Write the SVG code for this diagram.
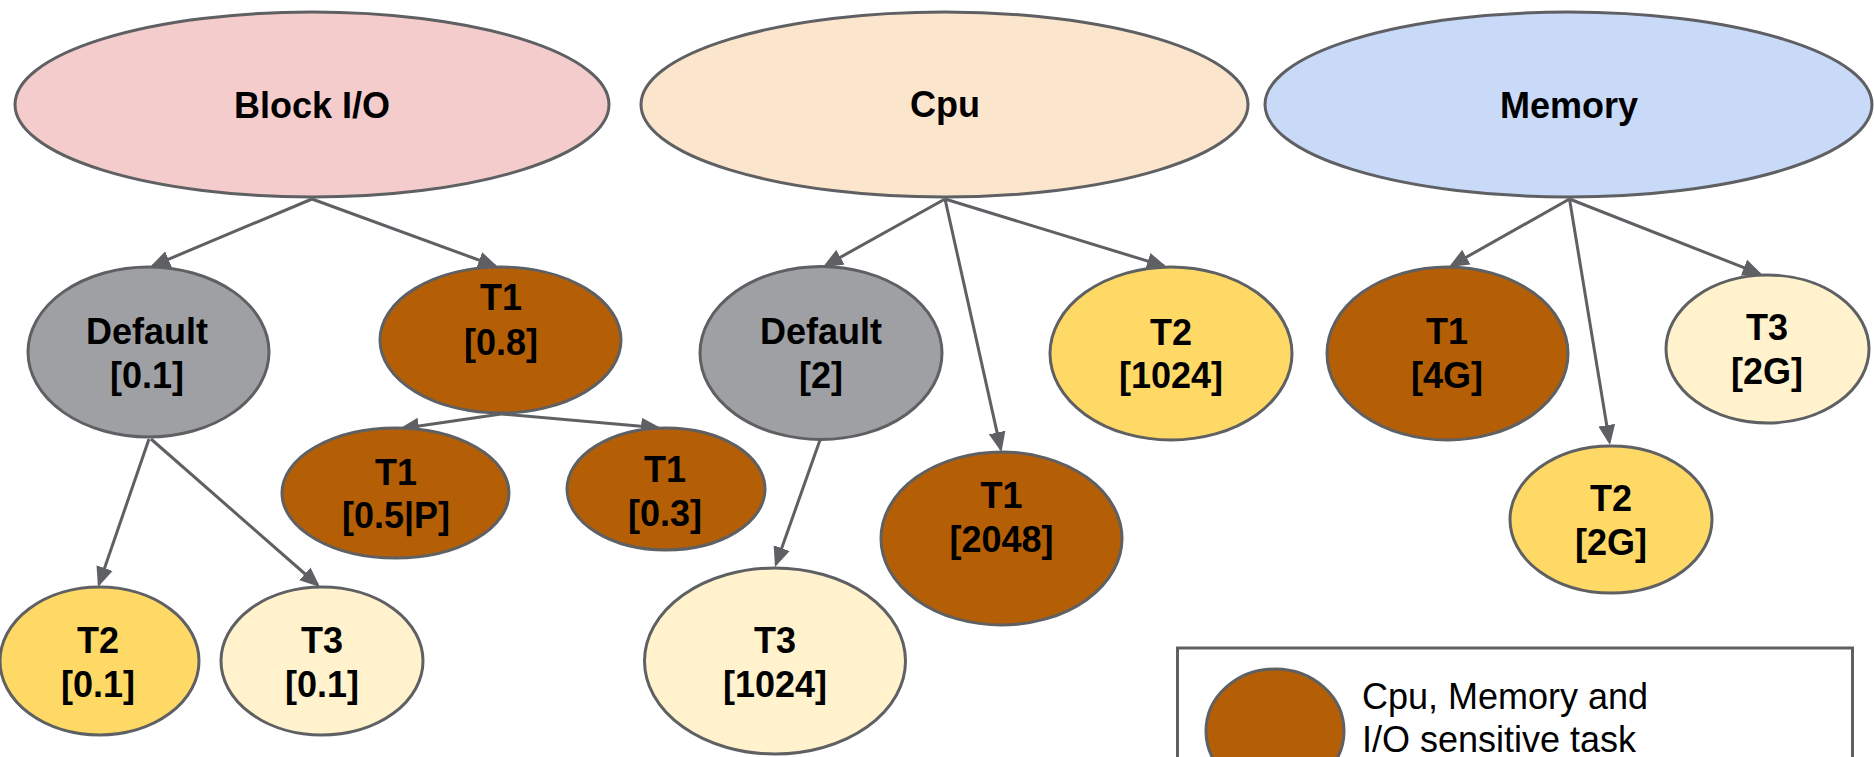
<svg xmlns="http://www.w3.org/2000/svg" width="1874" height="757" viewBox="0 0 1874 757">
  <defs>
    <marker id="arrow" markerUnits="userSpaceOnUse" viewBox="0 -9 20 18" markerWidth="20" markerHeight="18" refX="17" refY="0" orient="auto">
      <path d="M0,-8.5 L20,0 L0,8.5 Z" fill="#5f6063"/>
    </marker>
    <style>
      .node { stroke: #5f6063; stroke-width: 3; }
      .root-io { fill: #f4cccc; }
      .root-cpu { fill: #fce5cd; }
      .root-mem { fill: #c9daf8; }
      .default { fill: #9fa0a4; }
      .t1 { fill: #b45f06; }
      .t2 { fill: #ffd966; }
      .t3 { fill: #fff2cc; }
      .label { font-family: "Liberation Sans", Arial, sans-serif; font-size: 36px; font-weight: bold; fill: #000; text-anchor: middle; }
      .legend-text { font-family: "Liberation Sans", Arial, sans-serif; font-size: 36px; fill: #000; }
      .edge { stroke: #5f6063; stroke-width: 3; fill: none; marker-end: url(#arrow); }
    </style>
  </defs>

  <rect width="1874" height="757" fill="#ffffff"/>

  <!-- connectors -->
  <g id="connectors">
    <line class="edge" x1="312" y1="199" x2="152.8" y2="265.8"/>
    <line class="edge" x1="312" y1="199" x2="495.2" y2="266"/>
    <line class="edge" x1="501" y1="414" x2="402" y2="428.6"/>
    <line class="edge" x1="501" y1="414" x2="658" y2="427.7"/>
    <line class="edge" x1="149" y1="439" x2="99" y2="584.2"/>
    <line class="edge" x1="151" y1="439" x2="317.7" y2="585"/>
    <line class="edge" x1="945" y1="199" x2="825.6" y2="265.5"/>
    <line class="edge" x1="945" y1="199" x2="1000.8" y2="449.1"/>
    <line class="edge" x1="945" y1="199" x2="1164.1" y2="266.1"/>
    <line class="edge" x1="820" y1="440" x2="776" y2="564.2"/>
    <line class="edge" x1="1569.5" y1="199" x2="1451.6" y2="265.5"/>
    <line class="edge" x1="1569.5" y1="199" x2="1759.8" y2="273.9"/>
    <line class="edge" x1="1569.5" y1="199" x2="1609.5" y2="442"/>
  </g>

  <!-- resource roots -->
  <g id="block-io">
    <ellipse class="node root-io" cx="312" cy="104.5" rx="297" ry="92.5"/>
    <text class="label" x="312" y="118">Block I/O</text>
  </g>
  <g id="cpu">
    <ellipse class="node root-cpu" cx="944.5" cy="104.5" rx="303.5" ry="92.5"/>
    <text class="label" x="945" y="117">Cpu</text>
  </g>
  <g id="memory">
    <ellipse class="node root-mem" cx="1568.5" cy="104.5" rx="303.5" ry="92.5"/>
    <text class="label" x="1569" y="118">Memory</text>
  </g>

  <!-- Block I/O groups -->
  <g id="io-default">
    <ellipse class="node default" cx="148.5" cy="352" rx="120.5" ry="85"/>
    <text class="label" x="147" y="344">Default</text>
    <text class="label" x="147" y="388">[0.1]</text>
  </g>
  <g id="io-t1">
    <ellipse class="node t1" cx="500.5" cy="340" rx="120.5" ry="73"/>
    <text class="label" x="501" y="310">T1</text>
    <text class="label" x="501" y="355">[0.8]</text>
  </g>
  <g id="io-t1-p">
    <ellipse class="node t1" cx="395.5" cy="493" rx="113.5" ry="65"/>
    <text class="label" x="396" y="485">T1</text>
    <text class="label" x="396" y="528">[0.5|P]</text>
  </g>
  <g id="io-t1-b">
    <ellipse class="node t1" cx="666" cy="489" rx="99" ry="61"/>
    <text class="label" x="665" y="482">T1</text>
    <text class="label" x="665" y="526">[0.3]</text>
  </g>
  <g id="io-t2">
    <ellipse class="node t2" cx="99.5" cy="661" rx="99.5" ry="74"/>
    <text class="label" x="98" y="653">T2</text>
    <text class="label" x="98" y="697">[0.1]</text>
  </g>
  <g id="io-t3">
    <ellipse class="node t3" cx="322" cy="661" rx="101" ry="74"/>
    <text class="label" x="322" y="653">T3</text>
    <text class="label" x="322" y="697">[0.1]</text>
  </g>

  <!-- Cpu groups -->
  <g id="cpu-default">
    <ellipse class="node default" cx="821" cy="353" rx="121" ry="86.5"/>
    <text class="label" x="821" y="344">Default</text>
    <text class="label" x="821" y="388">[2]</text>
  </g>
  <g id="cpu-t2">
    <ellipse class="node t2" cx="1171" cy="353.5" rx="121" ry="86.5"/>
    <text class="label" x="1171" y="345">T2</text>
    <text class="label" x="1171" y="388">[1024]</text>
  </g>
  <g id="cpu-t1">
    <ellipse class="node t1" cx="1001.5" cy="538.5" rx="120.5" ry="86.5"/>
    <text class="label" x="1001.5" y="508">T1</text>
    <text class="label" x="1001.5" y="552">[2048]</text>
  </g>
  <g id="cpu-t3">
    <ellipse class="node t3" cx="775" cy="661" rx="130.5" ry="93"/>
    <text class="label" x="775" y="653">T3</text>
    <text class="label" x="775" y="697">[1024]</text>
  </g>

  <!-- Memory groups -->
  <g id="mem-t1">
    <ellipse class="node t1" cx="1447.5" cy="353.5" rx="120.5" ry="86.5"/>
    <text class="label" x="1447" y="344">T1</text>
    <text class="label" x="1447" y="388">[4G]</text>
  </g>
  <g id="mem-t3">
    <ellipse class="node t3" cx="1767.5" cy="349" rx="101.5" ry="74"/>
    <text class="label" x="1767" y="340">T3</text>
    <text class="label" x="1767" y="384">[2G]</text>
  </g>
  <g id="mem-t2">
    <ellipse class="node t2" cx="1611" cy="519.5" rx="101" ry="73.5"/>
    <text class="label" x="1611" y="511">T2</text>
    <text class="label" x="1611" y="555">[2G]</text>
  </g>

  <!-- legend -->
  <g id="legend">
    <rect x="1177.5" y="648" width="675" height="140" fill="#ffffff" stroke="#5f6063" stroke-width="3"/>
    <ellipse class="node t1" cx="1275" cy="731" rx="69" ry="62"/>
    <text class="legend-text" x="1362" y="709">Cpu, Memory and</text>
    <text class="legend-text" x="1362" y="752">I/O sensitive task</text>
  </g>
</svg>
